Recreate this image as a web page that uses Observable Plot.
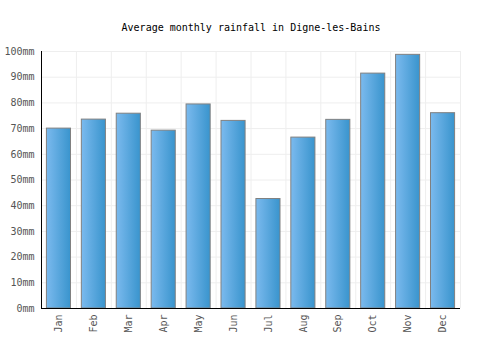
<!DOCTYPE html>
<html>
<head>
<meta charset="utf-8">
<script src="https://cdn.jsdelivr.net/npm/d3@7"></script>
<script src="https://cdn.jsdelivr.net/npm/@observablehq/plot@0.6"></script>
<style>
  html, body { margin: 0; padding: 0; background: #fff; }
  #chart svg { display: block; }
</style>
</head>
<body>
<div id="chart"></div>
<script>
const title = "Average monthly rainfall in Digne-les-Bains";
const months = ["Jan","Feb","Mar","Apr","May","Jun","Jul","Aug","Sep","Oct","Nov","Dec"];
const rainfall = [70, 73.5, 75.8, 69.2, 79.4, 73, 42.6, 66.5, 73.4, 91.4, 98.7, 76];
const yTicks = [0,10,20,30,40,50,60,70,80,90,100];

const data = months.map((m, i) => ({month: m, value: rainfall[i]}));

const W = 500, H = 350;
const mL = 41, mR = 40, mT = 51, mB = 42;
const step = (W - mL - mR) / months.length;
const inset = step * 0.155;
const FONT = "'DejaVu Sans Mono', monospace";

const chart = Plot.plot({
  width: W,
  height: H,
  marginLeft: mL,
  marginRight: mR,
  marginTop: mT,
  marginBottom: mB,
  style: {fontFamily: FONT, fontSize: "10px", color: "#555", background: "#fff"},
  x: {domain: months, padding: 0, round: false, label: null},
  y: {domain: [0, 100], label: null},
  marks: [
    Plot.ruleY(yTicks, {stroke: "#eeeeee", strokeWidth: 1, strokeOpacity: 1}),
    Plot.ruleX(months, {x: d => d, dx: step / 2, stroke: "#eeeeee", strokeWidth: 1, strokeOpacity: 1}),
    Plot.barY(data, {x: "month", y: "value", insetLeft: inset, insetRight: inset, fill: "url(#barGrad)", stroke: "#808080", strokeWidth: 1}),
    Plot.axisY(yTicks, {tickSize: 0, tickPadding: 7, tickFormat: d => d + "mm", fill: "#555", fontSize: 10}),
    Plot.axisX({tickSize: 0, tickPadding: 6, tickRotate: -90, fill: "#555", fontSize: 10}),
    Plot.ruleY([0], {stroke: "#000", strokeWidth: 1}),
    Plot.text([title], {frameAnchor: "top", dy: -28, fill: "#000", fontSize: 10, fontFamily: FONT})
  ]
});

// gradient definition and left axis line
const svg = d3.select(chart);
const defs = svg.insert("defs", ":first-child");
const g = defs.append("linearGradient").attr("id", "barGrad").attr("x1", "0%").attr("x2", "100%").attr("y1", "0%").attr("y2", "0%");
g.append("stop").attr("offset", "0%").attr("stop-color", "#7bbaee");
g.append("stop").attr("offset", "100%").attr("stop-color", "#3994cd");
svg.append("line")
  .attr("x1", mL + 0.5).attr("x2", mL + 0.5)
  .attr("y1", mT).attr("y2", H - mB + 0.5)
  .attr("stroke", "#000");

document.getElementById("chart").appendChild(chart);
</script>
</body>
</html>
